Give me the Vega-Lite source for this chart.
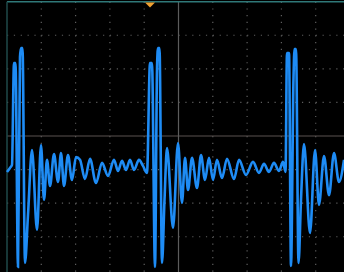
{
  "$schema": "https://vega.github.io/schema/vega-lite/v6.json",
  "width": 344,
  "height": 272,
  "padding": 0,
  "autosize": {"type": "none"},
  "background": "#000000",
  "config": {"view": {"stroke": null, "fill": "#000000"}, "axis": {"disable": true}},
  "datasets": {
    "hgrid": [{"v": -3}, {"v": -2}, {"v": -1}, {"v": 1}, {"v": 2}, {"v": 3}],
    "vgrid": [{"t": 1}, {"t": 2}, {"t": 3}, {"t": 4}, {"t": 6}, {"t": 7}, {"t": 8}, {"t": 9}],
    "wave": [
      {"t": 0.0, "v": -1.07}, {"t": 0.087, "v": -0.95}, {"t": 0.146, "v": -0.86},
      {"t": 0.204, "v": 2.17}, {"t": 0.248, "v": 2.17}, {"t": 0.321, "v": -3.9},
      {"t": 0.379, "v": 2.35}, {"t": 0.408, "v": 2.62}, {"t": 0.452, "v": 2.62},
      {"t": 0.525, "v": -3.78}, {"t": 0.612, "v": -2.35}, {"t": 0.729, "v": -0.42},
      {"t": 0.875, "v": -2.8}, {"t": 0.991, "v": -0.27}, {"t": 1.079, "v": -1.9},
      {"t": 1.166, "v": -0.71}, {"t": 1.254, "v": -1.49}, {"t": 1.37, "v": -0.54},
      {"t": 1.487, "v": -1.37}, {"t": 1.574, "v": -0.51}, {"t": 1.662, "v": -1.49},
      {"t": 1.778, "v": -0.57}, {"t": 1.895, "v": -1.31}, {"t": 2.012, "v": -0.63},
      {"t": 2.128, "v": -0.71}, {"t": 2.274, "v": -1.28}, {"t": 2.42, "v": -0.68},
      {"t": 2.595, "v": -1.4}, {"t": 2.77, "v": -0.8}, {"t": 2.945, "v": -1.19},
      {"t": 3.12, "v": -0.71}, {"t": 3.236, "v": -1.04}, {"t": 3.353, "v": -0.74},
      {"t": 3.469, "v": -1.01}, {"t": 3.586, "v": -0.71}, {"t": 3.703, "v": -1.01},
      {"t": 3.848, "v": -0.71}, {"t": 3.965, "v": -0.89}, {"t": 4.082, "v": -1.1},
      {"t": 4.169, "v": 2.17}, {"t": 4.227, "v": 2.17}, {"t": 4.315, "v": -3.9},
      {"t": 4.373, "v": 1.96}, {"t": 4.402, "v": 2.62}, {"t": 4.446, "v": 2.62},
      {"t": 4.519, "v": -3.78}, {"t": 4.592, "v": -1.9}, {"t": 4.665, "v": -0.36},
      {"t": 4.84, "v": -2.74}, {"t": 4.985, "v": -0.21}, {"t": 5.102, "v": -1.99},
      {"t": 5.19, "v": -0.65}, {"t": 5.277, "v": -1.61}, {"t": 5.394, "v": -0.65},
      {"t": 5.539, "v": -1.55}, {"t": 5.656, "v": -0.57}, {"t": 5.773, "v": -1.31},
      {"t": 5.889, "v": -0.65}, {"t": 6.006, "v": -1.31}, {"t": 6.122, "v": -0.71},
      {"t": 6.268, "v": -1.25}, {"t": 6.414, "v": -0.68}, {"t": 6.618, "v": -1.28},
      {"t": 6.764, "v": -0.71}, {"t": 6.968, "v": -1.16}, {"t": 7.172, "v": -0.77},
      {"t": 7.347, "v": -1.1}, {"t": 7.493, "v": -0.83}, {"t": 7.638, "v": -1.07},
      {"t": 7.784, "v": -0.8}, {"t": 7.93, "v": -1.04}, {"t": 8.047, "v": -0.77},
      {"t": 8.12, "v": -1.07}, {"t": 8.163, "v": 2.47}, {"t": 8.222, "v": 2.47},
      {"t": 8.28, "v": -3.87}, {"t": 8.353, "v": 1.73}, {"t": 8.382, "v": 2.59},
      {"t": 8.426, "v": 2.59}, {"t": 8.499, "v": -3.78}, {"t": 8.571, "v": -1.9},
      {"t": 8.659, "v": -0.24}, {"t": 8.834, "v": -2.89}, {"t": 8.98, "v": -0.42},
      {"t": 9.096, "v": -2.05}, {"t": 9.242, "v": -0.6}, {"t": 9.388, "v": -1.76},
      {"t": 9.534, "v": -0.51}, {"t": 9.679, "v": -1.37}, {"t": 9.825, "v": -0.71}
    ],
    "trigger": [{"t": 4.17, "v": 3.9}]
  },
  "layer": [
    {
      "data": {"name": "hgrid"},
      "mark": {"type": "rule", "color": "#5e5e5e", "strokeWidth": 1.2, "strokeDash": [1.2, 5.66]},
      "encoding": {
        "y": {"field": "v", "type": "quantitative", "scale": {"domain": [-4.05, 4.05], "nice": false, "zero": false}},
        "x": {"datum": 0, "type": "quantitative", "scale": {"domain": [-0.204, 9.825], "nice": false, "zero": false}},
        "x2": {"datum": 9.825}
      }
    },
    {
      "data": {"name": "vgrid"},
      "mark": {"type": "rule", "color": "#5e5e5e", "strokeWidth": 1.2, "strokeDash": [1.2, 5.52]},
      "encoding": {
        "x": {"field": "t", "type": "quantitative", "scale": {"domain": [-0.204, 9.825], "nice": false, "zero": false}},
        "y": {"datum": 4.0, "type": "quantitative", "scale": {"domain": [-4.05, 4.05], "nice": false, "zero": false}},
        "y2": {"datum": -4.05}
      }
    },
    {
      "data": {"values": [{"v": 0}]},
      "mark": {"type": "rule", "color": "#5a5250", "strokeWidth": 1},
      "encoding": {
        "y": {"field": "v", "type": "quantitative", "scale": {"domain": [-4.05, 4.05], "nice": false, "zero": false}},
        "x": {"datum": 0, "type": "quantitative", "scale": {"domain": [-0.204, 9.825], "nice": false, "zero": false}},
        "x2": {"datum": 9.825}
      }
    },
    {
      "data": {"values": [{"t": 5}]},
      "mark": {"type": "rule", "color": "#5c5c5c", "strokeWidth": 1.2},
      "encoding": {
        "x": {"field": "t", "type": "quantitative", "scale": {"domain": [-0.204, 9.825], "nice": false, "zero": false}},
        "y": {"datum": 4.0, "type": "quantitative", "scale": {"domain": [-4.05, 4.05], "nice": false, "zero": false}},
        "y2": {"datum": -4.05}
      }
    },
    {
      "data": {"values": [{"v": 4.0}]},
      "mark": {"type": "rule", "color": "#2f7878", "strokeWidth": 1.5},
      "encoding": {
        "y": {"field": "v", "type": "quantitative", "scale": {"domain": [-4.05, 4.05], "nice": false, "zero": false}},
        "x": {"datum": 0, "type": "quantitative", "scale": {"domain": [-0.204, 9.825], "nice": false, "zero": false}},
        "x2": {"datum": 9.825}
      }
    },
    {
      "data": {"values": [{"t": 0}]},
      "mark": {"type": "rule", "color": "#1f4a4a", "strokeWidth": 1.5},
      "encoding": {
        "x": {"field": "t", "type": "quantitative", "scale": {"domain": [-0.204, 9.825], "nice": false, "zero": false}},
        "y": {"datum": 4.0, "type": "quantitative", "scale": {"domain": [-4.05, 4.05], "nice": false, "zero": false}},
        "y2": {"datum": -4.05}
      }
    },
    {
      "data": {"name": "wave"},
      "mark": {"type": "line", "color": "#1e8cf5", "strokeWidth": 2.6, "interpolate": "monotone", "clip": true},
      "encoding": {
        "x": {"field": "t", "type": "quantitative", "scale": {"domain": [-0.204, 9.825], "nice": false, "zero": false}},
        "y": {"field": "v", "type": "quantitative", "scale": {"domain": [-4.05, 4.05], "nice": false, "zero": false}}
      }
    },
    {
      "data": {"name": "trigger"},
      "mark": {"type": "point", "shape": "M-1,-0.5L1,-0.5L0,0.5Z", "size": 100, "filled": true, "color": "#f0a030", "opacity": 1},
      "encoding": {
        "x": {"field": "t", "type": "quantitative", "scale": {"domain": [-0.204, 9.825], "nice": false, "zero": false}},
        "y": {"field": "v", "type": "quantitative", "scale": {"domain": [-4.05, 4.05], "nice": false, "zero": false}}
      }
    }
  ]
}
